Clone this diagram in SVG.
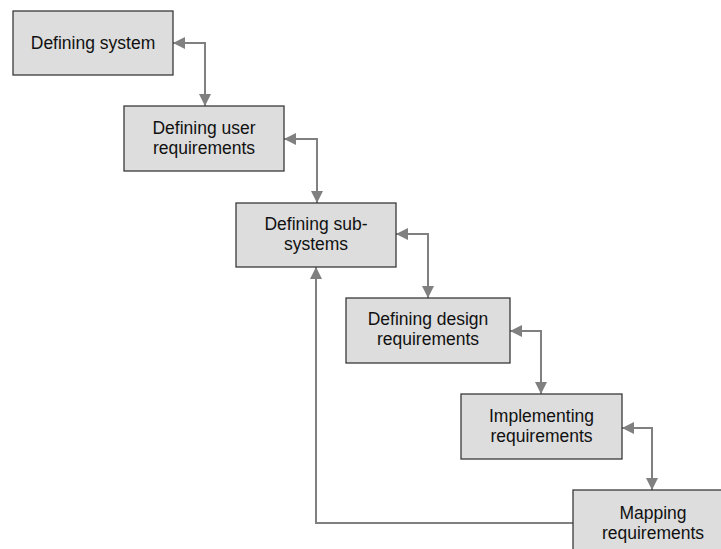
<svg xmlns="http://www.w3.org/2000/svg" width="721" height="549" viewBox="0 0 721 549">
  <style>
    .box { fill: #dddddd; stroke: #3a3a3a; stroke-width: 1.3; }
    .label { font-family: "Liberation Sans", Arial, sans-serif; font-size: 17.5px; fill: #111111; text-anchor: middle; }
    .link { fill: none; stroke: #808080; stroke-width: 2; }
  </style>
  <defs>
    <marker id="head" markerUnits="userSpaceOnUse" markerWidth="12" markerHeight="12" refX="12" refY="6" orient="auto-start-reverse">
      <path d="M0,0 L12,6 L0,12 z" fill="#808080"/>
    </marker>
  </defs>
  <rect width="721" height="549" fill="#ffffff"/>

  <g id="connectors">
    <path class="link" d="M173,43 H205 V106" marker-start="url(#head)" marker-end="url(#head)"/>
    <path class="link" d="M284,139 H317 V203" marker-start="url(#head)" marker-end="url(#head)"/>
    <path class="link" d="M396,234 H428 V298" marker-start="url(#head)" marker-end="url(#head)"/>
    <path class="link" d="M510,331 H541 V394" marker-start="url(#head)" marker-end="url(#head)"/>
    <path class="link" d="M622,428 H652 V490" marker-start="url(#head)" marker-end="url(#head)"/>
    <path class="link" d="M573,523 H316 V267" marker-end="url(#head)"/>
  </g>

  <g id="defining-system">
    <rect class="box" x="13" y="11" width="160" height="64"/>
    <text class="label" x="93" y="49">Defining system</text>
  </g>
  <g id="defining-user-requirements">
    <rect class="box" x="124" y="106" width="160" height="65"/>
    <text class="label" x="204" y="134">Defining user</text>
    <text class="label" x="204" y="154">requirements</text>
  </g>
  <g id="defining-sub-systems">
    <rect class="box" x="236" y="203" width="160" height="64"/>
    <text class="label" x="316" y="229.5">Defining sub-</text>
    <text class="label" x="316" y="249.5">systems</text>
  </g>
  <g id="defining-design-requirements">
    <rect class="box" x="346" y="298" width="164" height="65"/>
    <text class="label" x="428" y="325">Defining design</text>
    <text class="label" x="428" y="345">requirements</text>
  </g>
  <g id="implementing-requirements">
    <rect class="box" x="461" y="394" width="161" height="65"/>
    <text class="label" x="541.5" y="421.5">Implementing</text>
    <text class="label" x="541.5" y="441.5">requirements</text>
  </g>
  <g id="mapping-requirements">
    <rect class="box" x="573" y="490" width="160" height="65"/>
    <text class="label" x="653" y="519">Mapping</text>
    <text class="label" x="653" y="539">requirements</text>
  </g>
</svg>
